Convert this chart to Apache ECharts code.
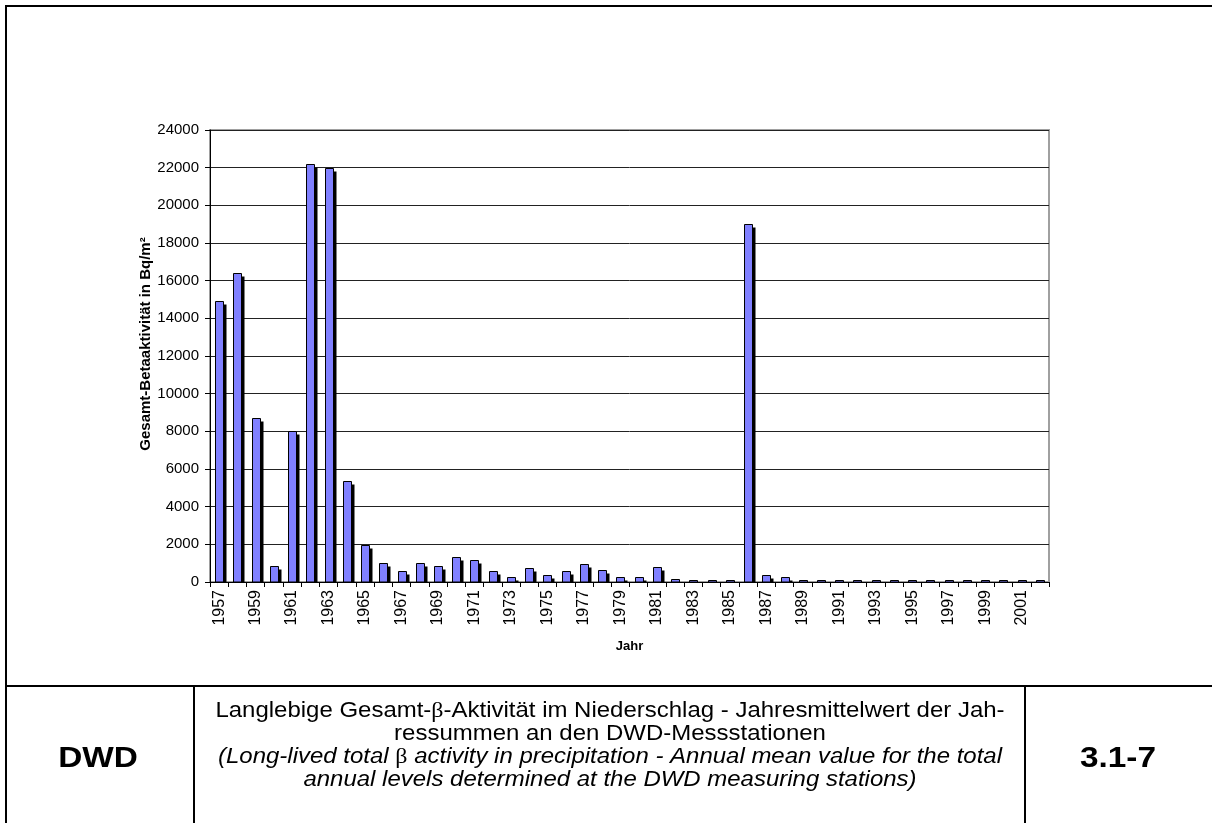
<!DOCTYPE html>
<html>
<head>
<meta charset="utf-8">
<title>Langlebige Gesamt-β-Aktivität im Niederschlag</title>
<script src="https://cdn.jsdelivr.net/npm/echarts@6/dist/echarts.min.js"></script>
<style>
  html, body { margin: 0; padding: 0; background: #fff; }
  #chart { width: 1212px; height: 823px; }
</style>
</head>
<body>
<div id="chart"></div>
<script>
// Jahresmittelwerte der Jahressummen, Gesamt-Betaaktivität in Bq/m²
const years = [
  '1957','1958','1959','1960','1961','1962','1963','1964','1965','1966',
  '1967','1968','1969','1970','1971','1972','1973','1974','1975','1976',
  '1977','1978','1979','1980','1981','1982','1983','1984','1985','1986',
  '1987','1988','1989','1990','1991','1992','1993','1994','1995','1996',
  '1997','1998','1999','2000','2001','2002'
];
const betaActivity = [
  14900, 16400, 8700, 850, 8000, 22200, 22000, 5350, 1950, 1000,
  570, 1030, 870, 1330, 1190, 600, 250, 740, 390, 600,
  940, 620, 260, 260, 820, 160, 120, 120, 120, 19000,
  350, 280, 120, 110, 100, 100, 110, 100, 90, 90,
  90, 100, 100, 100, 100, 100
];
const yTicks = { min: 0, max: 24000, step: 2000 };

const yTitle = 'Gesamt-Betaaktivität in Bq/m²';
const xTitle = 'Jahr';
const captionDe = ['Langlebige Gesamt-{b|β}-Aktivität im Niederschlag - Jahresmittelwert der Jah-',
                   'ressummen an den DWD-Messstationen'];
const captionEn = ['(Long-lived total {b|β} activity in precipitation - Annual mean value for the total',
                   'annual levels determined at the DWD measuring stations)'];
const sourceLabel = 'DWD';
const figureNo = '3.1-7';

const FONT = '"Liberation Sans", Arial, Helvetica, sans-serif';
const chart = echarts.init(document.getElementById('chart'), null, { renderer: 'canvas' });

// Bar with a hard black drop shadow on its right side
function renderBar(params, api) {
  const idx = api.value(0);
  const val = api.value(1);
  const top = api.coord([idx, val]);
  const base = api.coord([idx, 0]);
  const band = api.size([1, 0])[0];
  const bw = Math.round(band * 0.44);
  const x = Math.round(top[0] - bw / 2) + 0.5;
  const yTop = Math.round(top[1]) + 0.5;
  const yBase = Math.round(base[1]);
  const h = Math.max(0, yBase - yTop);
  const sh = 3;
  return {
    type: 'group',
    children: [
      {
        type: 'rect',
        shape: { x: x + bw, y: yTop + sh, width: sh, height: Math.max(0, yBase - yTop - sh) },
        style: { fill: '#000' }
      },
      {
        type: 'rect',
        shape: { x: x, y: yTop, width: bw, height: h },
        style: { fill: '#8080ff', stroke: '#000', lineWidth: 1 }
      }
    ]
  };
}

// caption text in the table below the chart, slightly widened
function captionLine(text, y, italic) {
  return {
    type: 'text',
    x: 610, y: y,
    scaleX: 1.09,
    style: {
      text: text,
      fill: '#000',
      font: (italic ? 'italic ' : '') + '22px ' + FONT,
      align: 'center',
      verticalAlign: 'middle',
      rich: {
        b: { fontFamily: '"Liberation Serif", "DejaVu Serif", serif', fontSize: 22, fontStyle: 'normal' }
      }
    }
  };
}

function cellLabel(text, x) {
  return {
    type: 'text', x: x, y: 759,
    scaleX: 1.15,
    style: { text: text, font: 'bold 29px ' + FONT, fill: '#000', align: 'center', verticalAlign: 'middle' }
  };
}

const option = {
  backgroundColor: '#fff',
  animation: false,
  grid: {
    left: 210, right: 163, top: 130, bottom: 241,
    show: true, borderColor: '#a0a0a0', borderWidth: 2, backgroundColor: 'transparent'
  },
  xAxis: {
    type: 'category',
    data: years,
    boundaryGap: true,
    name: xTitle,
    nameLocation: 'middle',
    nameGap: 58,
    nameMoveOverlap: false,
    nameTextStyle: { fontFamily: FONT, fontWeight: 'bold', fontSize: 13, color: '#000' },
    axisLine: { show: true, lineStyle: { color: '#000', width: 1 } },
    axisTick: { show: true, length: 5, interval: 0, alignWithLabel: false, lineStyle: { color: '#000' } },
    axisLabel: {
      interval: 1, rotate: 90, margin: 8,
      fontFamily: FONT, fontSize: 16, color: '#000'
    },
    splitLine: { show: false }
  },
  yAxis: {
    type: 'value',
    min: yTicks.min, max: yTicks.max, interval: yTicks.step,
    name: yTitle,
    nameLocation: 'middle',
    nameRotate: 90,
    nameGap: 57,
    nameMoveOverlap: false,
    nameTextStyle: {
      fontFamily: FONT, fontWeight: 'bold', fontSize: 15, color: '#000',
      padding: [0, 0, 0, 24]
    },
    axisLine: { show: true, lineStyle: { color: '#000', width: 1 } },
    axisTick: { show: true, length: 5, lineStyle: { color: '#000' } },
    axisLabel: { margin: 11, fontFamily: FONT, fontSize: 15, color: '#000', formatter: v => String(v) },
    splitLine: { show: true, lineStyle: { color: '#222', width: 1 } }
  },
  series: [{
    type: 'custom',
    renderItem: renderBar,
    encode: { x: 0, y: 1 },
    data: betaActivity.map((v, i) => [i, v]),
    z: 3
  }],
  graphic: [
    // outer frame and caption table
    { type: 'line', shape: { x1: 6, y1: 6, x2: 6, y2: 823 }, style: { stroke: '#000', lineWidth: 2 } },
    { type: 'line', shape: { x1: 5, y1: 6, x2: 1212, y2: 6 }, style: { stroke: '#000', lineWidth: 2 } },
    { type: 'line', shape: { x1: 5, y1: 686, x2: 1212, y2: 686 }, style: { stroke: '#000', lineWidth: 2 } },
    { type: 'line', shape: { x1: 194, y1: 686, x2: 194, y2: 823 }, style: { stroke: '#000', lineWidth: 2 } },
    { type: 'line', shape: { x1: 1025, y1: 686, x2: 1025, y2: 823 }, style: { stroke: '#000', lineWidth: 2 } },
    cellLabel(sourceLabel, 98),
    cellLabel(figureNo, 1118),
    captionLine(captionDe[0], 711, false),
    captionLine(captionDe[1], 734, false),
    captionLine(captionEn[0], 757, true),
    captionLine(captionEn[1], 780, true)
  ]
};

chart.setOption(option);
</script>
</body>
</html>
